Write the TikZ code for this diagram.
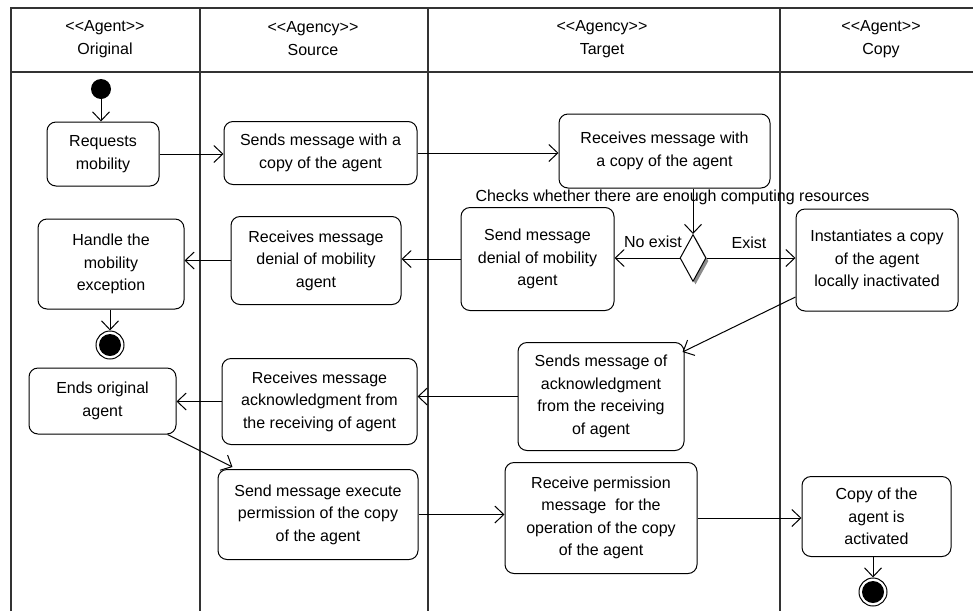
\documentclass[tikz,border=0pt]{standalone}
\usepackage{fontspec}
\setmainfont{Liberation Sans}
\usetikzlibrary{arrows.meta,calc,shapes.geometric}
\newcommand\stereo[1]{<\kern0pt<#1>\kern0pt>}
\begin{document}
\begin{tikzpicture}[x=1pt,y=-1pt,
 act/.style={draw, rounded corners=9pt, line width=1pt, align=center, inner sep=0pt, fill=white, font=\fontsize{16}{22.5}\selectfont},
 arr/.style={line width=1pt, -{Straight Barb[length=9pt,width=17pt,line width=1pt]}},
 lane/.style={line width=1.3pt, draw=black!80},
 hdr/.style={align=center, inner sep=0pt, font=\fontsize{16}{23}\selectfont},
 lbl/.style={inner sep=0pt, font=\fontsize{16}{20}\selectfont},
 startdot/.style={circle, fill=black, minimum size=20pt, inner sep=0pt},
 enddot/.style={circle, draw, line width=1pt, minimum size=28pt, inner sep=0pt,
   path picture={\fill[black] (path picture bounding box.center) circle (11pt);}},
 dec/.style={diamond, minimum width=26pt, minimum height=47pt, inner sep=0pt, line width=1pt}
]
\useasboundingbox (0,0) rectangle (973,611);

% swimlanes
\draw[lane] (11,611) -- (11,8) -- (973,8);
\draw[lane] (11,72) -- (973,72);
\draw[lane] (200,8) -- (200,611);
\draw[lane] (428,8) -- (428,611);
\draw[lane] (780,8) -- (780,611);

\node[hdr] (h1) at (105,39) {\stereo{Agent}\\Original};
\node[hdr] (h2) at (313,39) {\stereo{Agency}\\Source};
\node[hdr] (h3) at (602,39) {\stereo{Agency}\\Target};
\node[hdr] (h4) at (881,39) {\stereo{Agent}\\Copy};

% nodes
\node[startdot] (start) at (101,89) {};
\node[act, minimum width=112pt, minimum height=64pt] (req) at (103,154) {Requests\\mobility};
\node[act, minimum width=193pt, minimum height=63pt] (sendcopy) at (320.5,153) {Sends message with a\\copy of the agent};
\node[act, minimum width=211pt, minimum height=74pt] (recvcopy) at (664.5,151) {Receives message with\\a copy of the agent};
\node[lbl] (check) at (672.5,197) {Checks whether there are enough computing resources};

\node[dec, fill=black!45] (dshadow) at (695.5,261) {};
\node[dec, draw, fill=white] (dec) at (693,258) {};

\node[act, minimum width=153pt, minimum height=103pt] (senddeny) at (537.5,259) {Send message\\denial of mobility\\agent};
\node[act, minimum width=162pt, minimum height=102pt] (inst) at (877,260) {Instantiates a copy\\of the agent\\locally inactivated};
\node[act, minimum width=170pt, minimum height=88pt] (recvdeny) at (316,260.5) {Receives message\\denial of mobility\\agent};
\node[act, minimum width=146pt, minimum height=90pt] (handle) at (111,264) {Handle the\\mobility\\exception};
\node[enddot] (end1) at (110,345) {};

\node[act, minimum width=147pt, minimum height=66pt] (ends) at (102.5,401) {Ends original\\agent};
\node[act, minimum width=195pt, minimum height=86pt] (recvack) at (319.5,401.5) {Receives message\\acknowledgment from\\the receiving of agent};
\node[act, minimum width=166pt, minimum height=108pt] (sendack) at (601,396.5) {Sends message of\\acknowledgment\\from the receiving\\of agent};

\node[act, minimum width=200pt, minimum height=90pt] (sendexec) at (318,514.5) {Send message execute\\permission of the copy\\of the agent};
\node[act, minimum width=192pt, minimum height=111pt] (recvperm) at (601,518) {Receive permission\\message\ \ for the\\operation of the copy\\of the agent};
\node[act, minimum width=149pt, minimum height=80pt] (copyact) at (876.5,516.5) {Copy of the\\agent is\\activated};
\node[enddot] (end2) at (873,592) {};

% labels
\node[lbl] (noexist) at (653,242) {No exist};
\node[lbl] (exist) at (749,243) {Exist};

% connectors
\draw[arr] (start) -- (start |- req.north);
\draw[arr] (req.east) -- (req.east -| sendcopy.west);
\draw[arr] (sendcopy.east) -- (sendcopy.east -| recvcopy.west);
\draw[arr] (recvcopy.south -| dec.north) -- (dec.north);
\draw[arr] (dec.west) -- (dec.west -| senddeny.east);
\draw[arr] (dec.east) -- (dec.east -| inst.west);
\draw[arr] (senddeny.west) -- (senddeny.west -| recvdeny.east);
\draw[arr] (recvdeny.west) -- (recvdeny.west -| handle.east);
\draw[arr] (handle.south -| end1.north) -- (end1.north);
\draw[arr] ($(inst.west)+(0,37)$) -- ($(sendack.north east)+(-2,10)$);
\draw[arr] (sendack.west) -- (sendack.west -| recvack.east);
\draw[arr] (recvack.west) -- (recvack.west -| ends.east);
\draw[arr] ($(ends.south east)+(-9,0)$) -- ($(sendexec.north west)+(15,-2)$);
\draw[arr] (sendexec.east) -- (sendexec.east -| recvperm.west);
\draw[arr] (recvperm.east) -- (recvperm.east -| copyact.west);
\draw[arr] (copyact.south -| end2.north) -- (end2.north);
\end{tikzpicture}
\end{document}
